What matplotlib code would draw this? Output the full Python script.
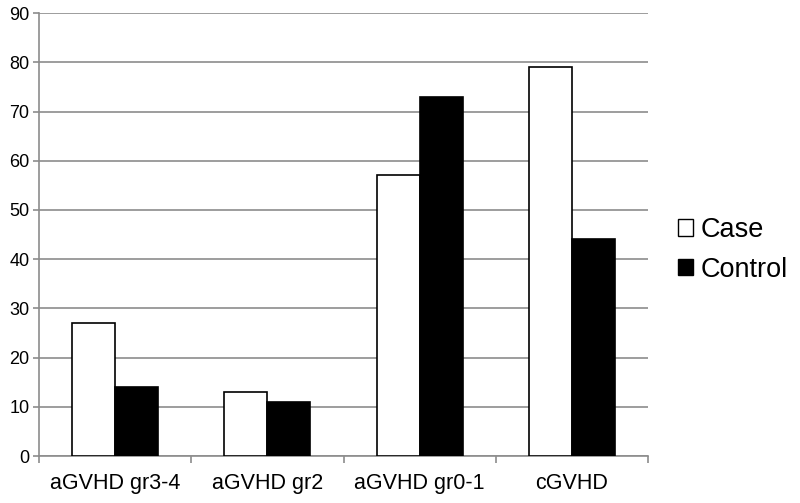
import matplotlib.pyplot as plt
from matplotlib.patches import Patch
import numpy as np

plt.rcParams['font.family'] = ['Liberation Sans', 'DejaVu Sans']

categories = ["aGVHD gr3-4", "aGVHD gr2", "aGVHD gr0-1", "cGVHD"]
case = [27, 13, 57, 79]
control = [14, 11, 73, 44]

grid_color = "#8c8c8c"

fig = plt.figure(figsize=(8, 5.03), dpi=100)
ax = fig.add_axes([0.04875, 0.0934, 0.76125, 0.8806])

x = np.arange(len(categories))
w = 0.283
ax.bar(x - w / 2, case, w, color="white", edgecolor="black", linewidth=1.2, zorder=3)
ax.bar(x + w / 2, control, w, color="black", edgecolor="black", linewidth=1.2, zorder=3)

ax.set_xlim(-0.5, len(categories) - 0.5)
ax.set_ylim(0, 90)
ax.set_yticks(range(0, 91, 10))
ax.yaxis.grid(True, color=grid_color, linewidth=1.2, zorder=0)
ax.set_axisbelow(True)

ax.set_xticks(x)
ax.set_xticklabels(categories, fontsize=15.5)
ax.tick_params(axis="x", which="major", length=0, pad=12)
ax.set_xticks(np.arange(-0.5, len(categories), 1.0), minor=True)
ax.tick_params(axis="x", which="minor", length=5, color=grid_color, width=1.2)
ax.tick_params(axis="y", length=4, color=grid_color, width=1.2, labelsize=13, pad=3)

for s in ["top", "right"]:
    ax.spines[s].set_visible(False)
for s in ["left", "bottom"]:
    ax.spines[s].set_color(grid_color)
    ax.spines[s].set_linewidth(1.2)

handles = [Patch(facecolor="white", edgecolor="black", label="Case"),
           Patch(facecolor="black", edgecolor="black", label="Control")]
fig.legend(handles=handles, loc="center left", bbox_to_anchor=(0.834, 0.503),
           frameon=False, fontsize=19.5, handlelength=0.55, handleheight=0.55,
           handletextpad=0.3, labelspacing=0.5, borderaxespad=0)

fig.savefig("out.png", dpi=100)
